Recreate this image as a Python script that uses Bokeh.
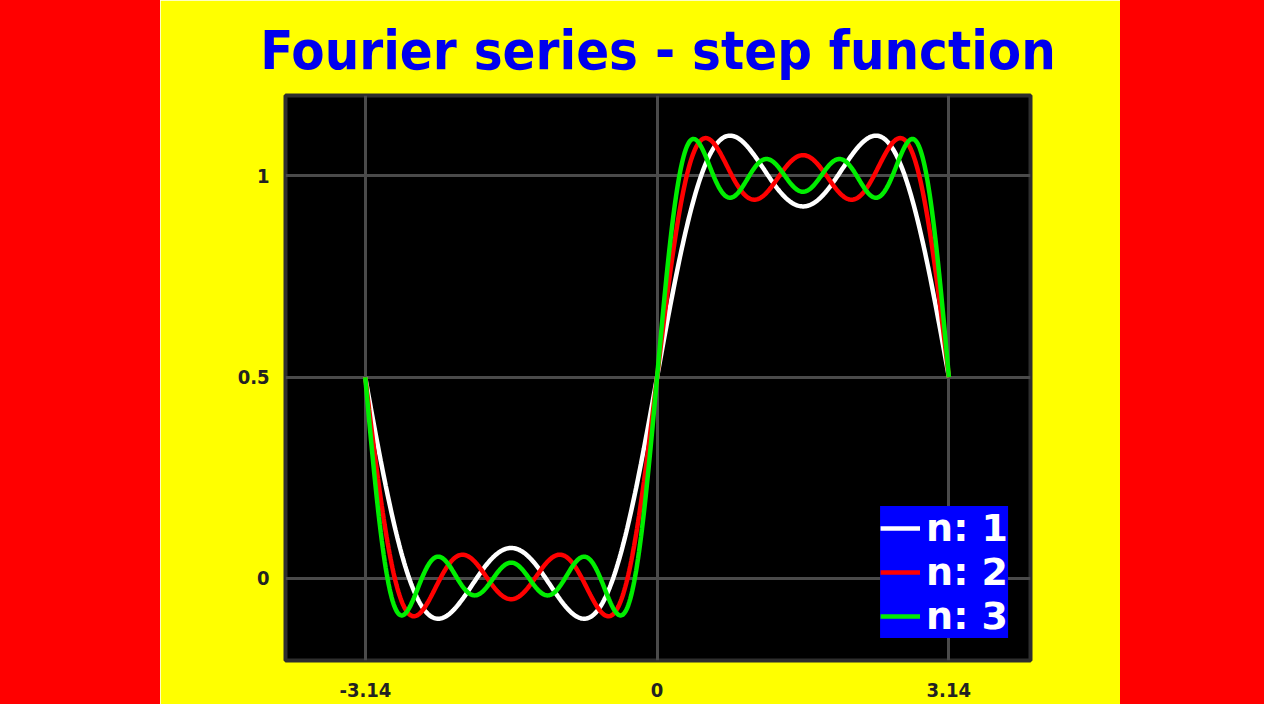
import numpy as np
from bokeh.plotting import figure
from bokeh.layouts import row
from bokeh.models import Spacer, FixedTicker, Legend, LegendItem
from bokeh.embed import file_html
from bokeh.resources import INLINE

# ---- data -------------------------------------------------------------
title_text = "Fourier series - step function"
series_names = ["n: 1", "n: 2", "n: 3"]
series_colors = ["#ffffff", "#ff0000", "#00ee00"]
series_terms = [2, 3, 4]                 # number of sine terms in each partial sum
offset = 0.5                             # a0 / 2
harmonics = [1, 3, 5, 7]                 # odd harmonics
sine_coeffs = [0.6366, 0.2122, 0.1273, 0.0909]  # b_k for each harmonic
x_ticks = [-3.14, 0, 3.14]
x_tick_labels = ["-3.14", "0", "3.14"]
y_ticks = [0, 0.5, 1]
y_tick_labels = ["0", "0.5", "1"]
x_start, x_end = -3.14159, 3.14159

COND = "DejaVu Sans Condensed"

# ---- figure -----------------------------------------------------------
p = figure(width=960, height=704, x_range=(-4.0, 4.02), y_range=(-0.204, 1.2),
           output_backend="svg", toolbar_location=None,
           min_border_left=125, min_border_right=90,
           min_border_top=95, min_border_bottom=44,
           background_fill_color="black", border_fill_color="#ffff00")

p.title.text = title_text
p.title.text_font = COND
p.title.text_font_style = "bold"
p.title.text_font_size = "54px"
p.title.text_color = "#0000ee"
p.title.align = "center"
p.title.standoff = 27

p.outline_line_color = "#2e2e2e"
p.outline_line_width = 4
p.outline_line_alpha = 1

xs = np.linspace(x_start, x_end, 600)
renderers = []
for name, color, nterms in zip(series_names, series_colors, series_terms):
    ys = np.full_like(xs, offset)
    for h, b in zip(harmonics[:nterms], sine_coeffs[:nterms]):
        ys = ys + b * np.sin(h * xs)
    r = p.line(xs, ys, line_color=color, line_width=4.5)
    renderers.append((name, r))

p.xaxis.ticker = FixedTicker(ticks=x_ticks)
p.yaxis.ticker = FixedTicker(ticks=y_ticks)
p.xaxis.major_label_overrides = dict(zip(x_ticks, x_tick_labels))
p.yaxis.major_label_overrides = dict(zip(y_ticks, y_tick_labels))
for ax in (p.xaxis, p.yaxis):
    ax.axis_line_color = None
    ax.major_tick_line_color = None
    ax.minor_tick_line_color = None
    ax.major_label_text_font = COND
    ax.major_label_text_font_style = "bold"
    ax.major_label_text_font_size = "20px"
    ax.major_label_text_color = "#222222"
p.xaxis.major_label_standoff = 16
p.yaxis.major_label_standoff = 10

p.grid.grid_line_color = "#4a4a4a"
p.grid.grid_line_width = 3

legend = Legend(items=[LegendItem(label=n, renderers=[r]) for n, r in renderers],
                location="bottom_right", margin=22, padding=7, spacing=0,
                background_fill_color="#0000ff", background_fill_alpha=1,
                border_line_color=None,
                label_text_color="white", label_text_font="DejaVu Sans",
                label_text_font_style="bold", label_text_font_size="38px",
                glyph_width=40, glyph_height=40, label_height=42, label_standoff=6)
p.add_layout(legend)

left = Spacer(width=160, height=704, styles={"background-color": "#ff0000"})
right = Spacer(width=144, height=704, styles={"background-color": "#ff0000"})
layout = row(left, p, right)

open("out.html", "w").write(file_html(layout, INLINE))
